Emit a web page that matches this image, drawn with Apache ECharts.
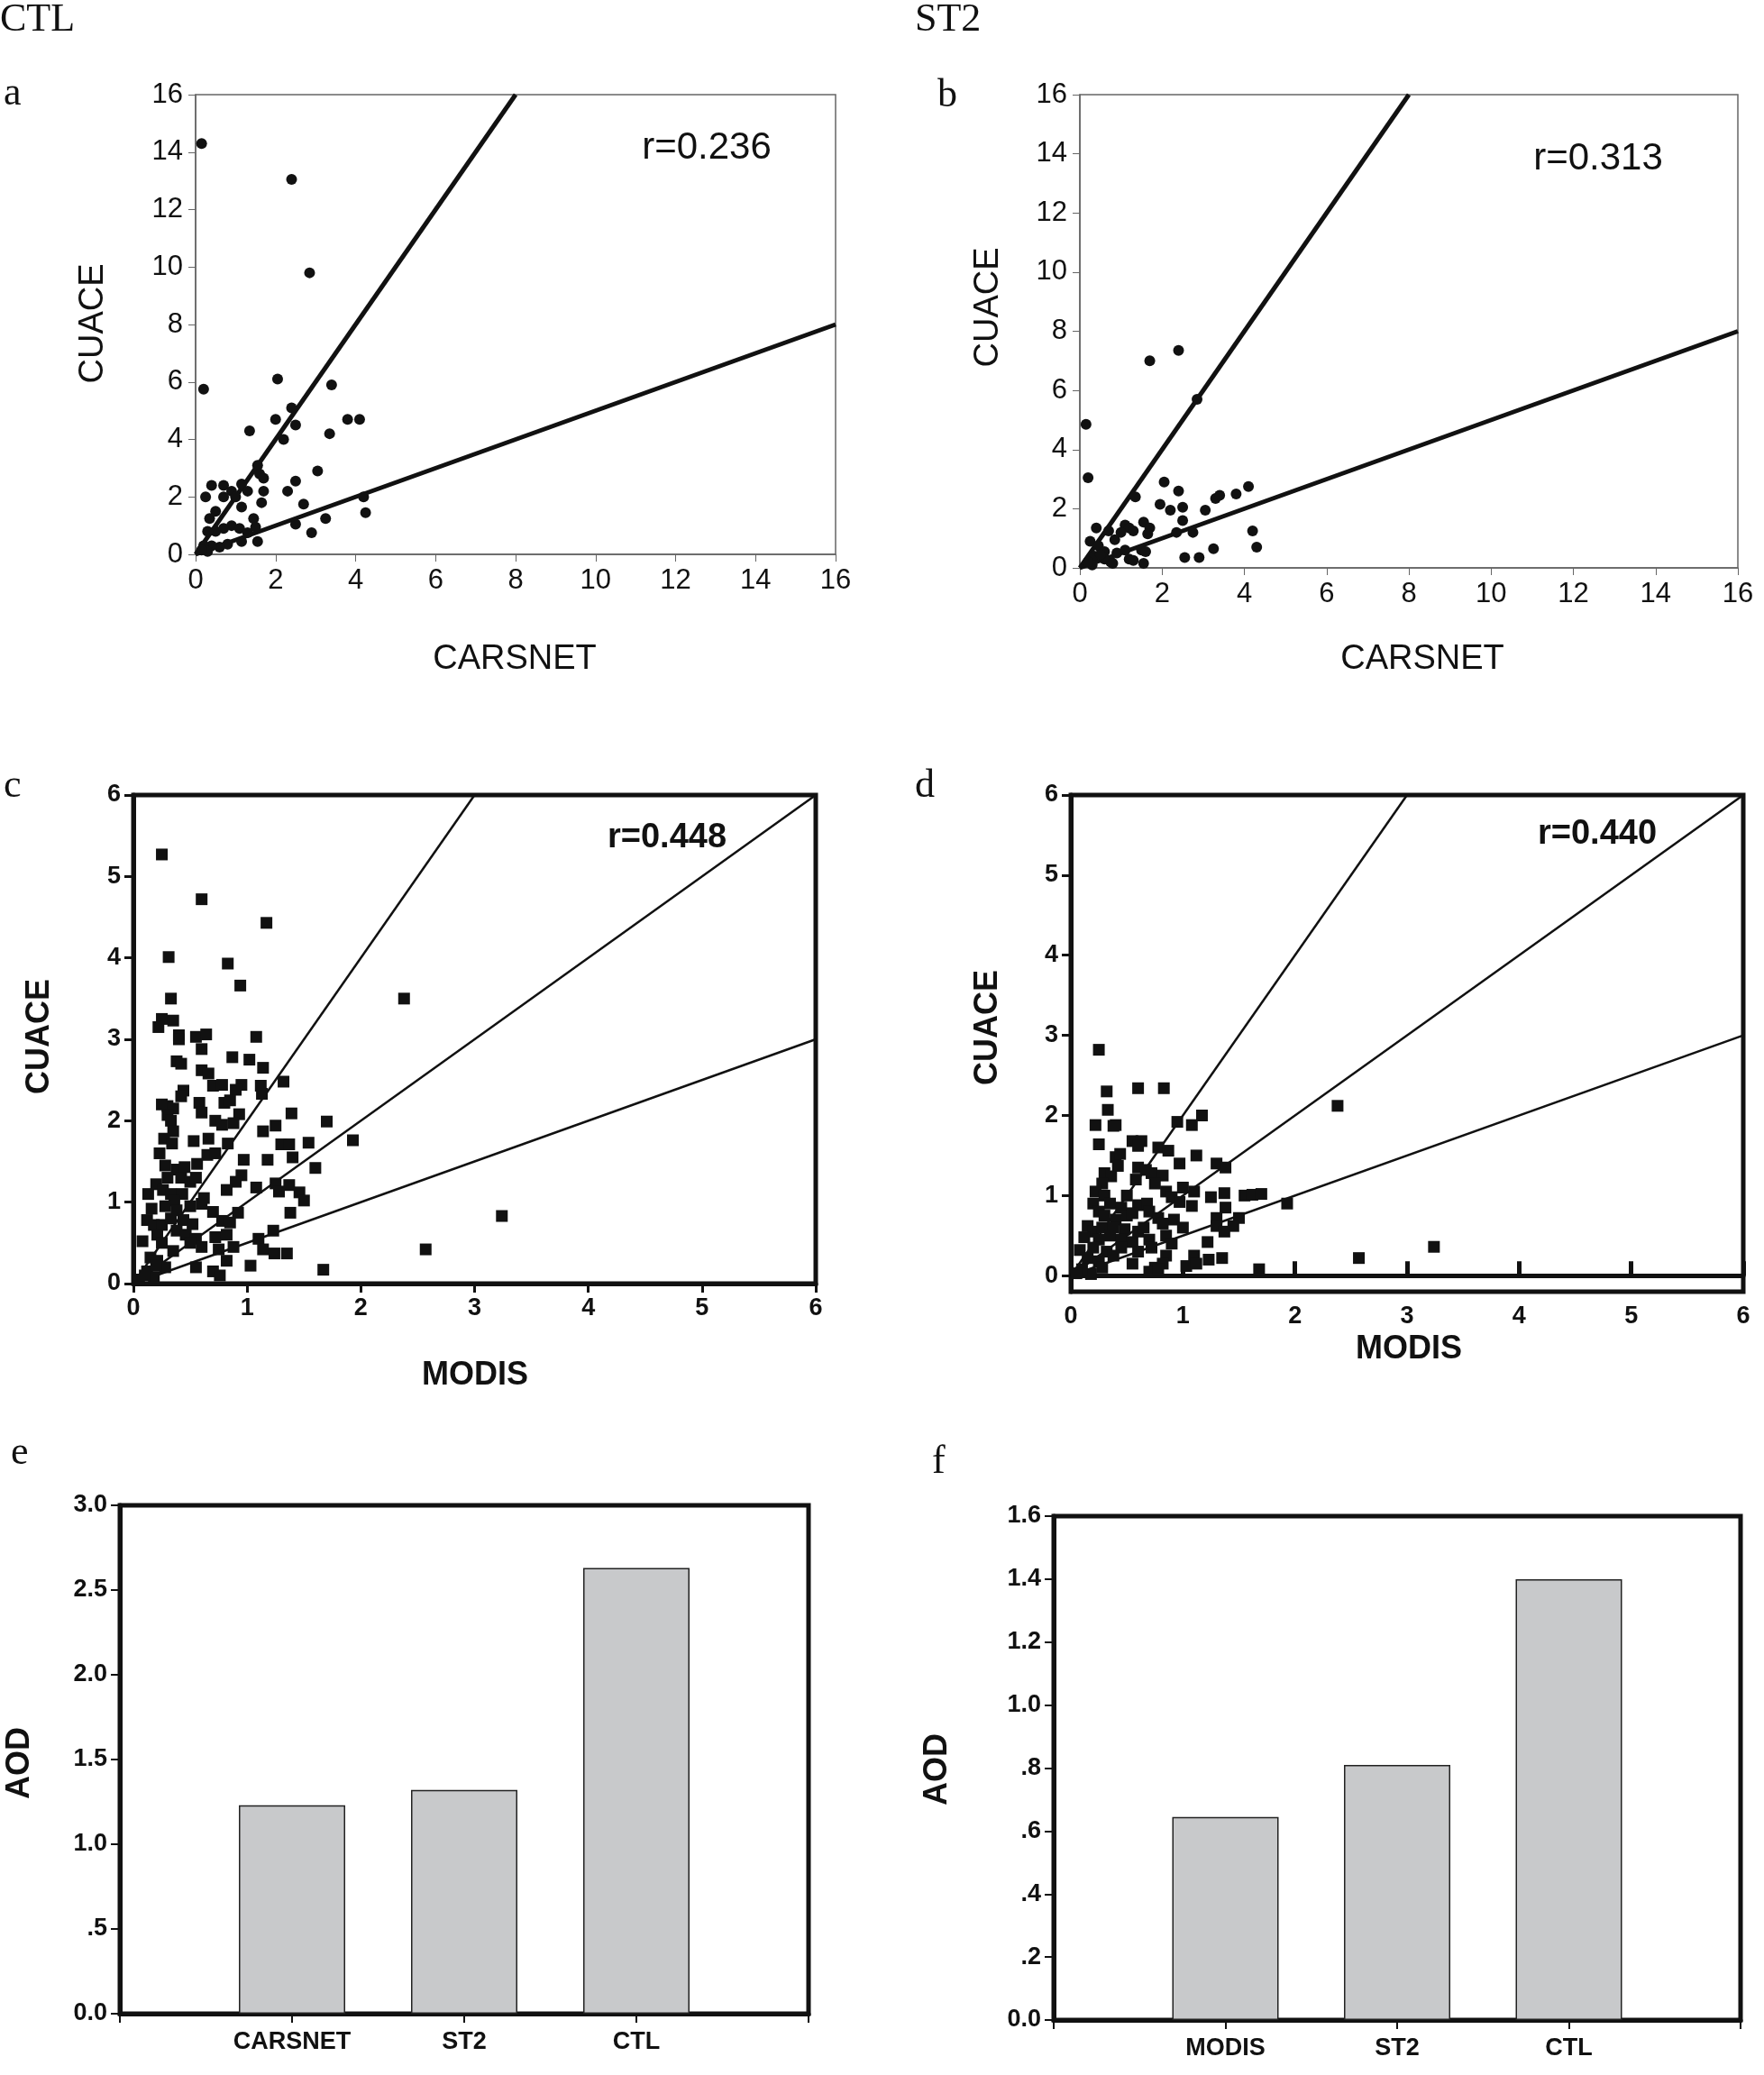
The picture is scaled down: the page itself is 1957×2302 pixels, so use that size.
<!DOCTYPE html>
<html><head><meta charset="utf-8">
<script src="https://cdn.jsdelivr.net/npm/echarts@6/dist/echarts.min.js"></script>
<style>html,body{margin:0;background:#fff}#c{width:1957px;height:2302px}</style>
</head><body><div id="c"></div>
<script>
// ---- data ----
const lineA1 = [[0,0],[8,16]], lineA2 = [[0,0],[16,8]];
const ptsA = [[0.15,14.3],[0.2,5.75],[2.4,13.05],[2.85,9.8],[2.05,6.1],[3.4,5.9],[2.4,5.1],[1.35,4.3],[2.0,4.7],[2.5,4.5],[3.8,4.7],[4.1,4.7],[2.2,4.0],[3.35,4.2],[1.55,3.1],[1.6,2.8],[1.7,2.65],[3.05,2.9],[2.5,2.55],[0.25,2.0],[0.4,2.4],[0.7,2.4],[0.9,2.2],[1.15,2.45],[1.3,2.2],[0.7,2.0],[1.0,2.0],[1.7,2.2],[2.3,2.2],[1.65,1.8],[1.15,1.65],[2.7,1.75],[4.2,2.0],[4.25,1.45],[0.5,1.5],[0.35,1.25],[1.45,1.25],[3.25,1.25],[2.5,1.05],[0.9,1.0],[1.1,0.9],[0.7,0.9],[0.5,0.8],[0.3,0.8],[1.5,0.95],[1.3,0.75],[2.9,0.75],[1.15,0.45],[1.55,0.45],[0.8,0.35],[0.6,0.25],[0.4,0.3],[0.2,0.3],[0.3,0.1],[0.15,0.15]];
const ptsB = [[0.15,4.85],[0.2,3.05],[1.7,7.0],[2.4,7.35],[2.85,5.7],[1.35,2.4],[2.05,2.9],[2.4,2.6],[1.95,2.15],[2.2,1.95],[2.5,2.05],[3.05,1.95],[3.3,2.35],[3.4,2.45],[3.8,2.5],[4.1,2.75],[2.5,1.6],[1.55,1.55],[1.7,1.35],[1.65,1.15],[2.35,1.2],[2.75,1.2],[4.2,1.25],[4.3,0.7],[3.25,0.65],[2.55,0.35],[2.9,0.35],[1.1,1.45],[1.2,1.35],[1.0,1.2],[1.3,1.25],[0.4,1.35],[0.7,1.25],[0.25,0.9],[0.45,0.75],[0.6,0.55],[0.85,0.95],[0.9,0.5],[1.1,0.6],[1.5,0.6],[1.6,0.55],[1.2,0.3],[1.3,0.25],[1.55,0.15],[0.75,0.2],[0.6,0.3],[0.35,0.4],[0.3,0.1],[0.2,0.2],[0.5,0.45],[0.8,0.15]];
const lineC1 = [[0,0],[3,6]], lineC2 = [[0,0],[6,6]], lineC3 = [[0,0],[6,3]];
const ptsC = [[0.25,5.27],[0.6,4.72],[1.17,4.43],[0.31,4.01],[0.83,3.93],[0.94,3.66],[0.33,3.5],[2.38,3.5],[0.25,3.25],[0.35,3.23],[0.22,3.15],[0.4,3.05],[0.4,3.0],[0.55,3.03],[0.64,3.06],[1.08,3.03],[0.6,2.88],[0.87,2.78],[1.02,2.75],[0.38,2.73],[0.42,2.7],[1.14,2.65],[0.6,2.62],[0.66,2.58],[0.7,2.43],[0.78,2.44],[0.95,2.44],[1.12,2.43],[1.32,2.48],[0.44,2.37],[0.42,2.3],[1.13,2.33],[0.9,2.38],[0.25,2.2],[0.3,2.18],[0.35,2.15],[0.58,2.22],[0.6,2.1],[0.8,2.22],[0.85,2.25],[0.93,2.08],[1.39,2.09],[0.3,2.07],[0.33,2.0],[0.72,2.0],[0.78,1.95],[0.88,1.97],[1.25,1.94],[1.7,1.99],[0.35,1.87],[0.27,1.78],[0.34,1.72],[0.53,1.75],[0.66,1.78],[0.83,1.72],[1.14,1.87],[1.3,1.71],[1.37,1.71],[1.54,1.73],[1.93,1.76],[0.23,1.6],[0.65,1.58],[0.72,1.6],[0.97,1.52],[1.18,1.52],[1.4,1.55],[0.28,1.45],[0.38,1.4],[0.45,1.43],[0.56,1.47],[1.6,1.42],[0.3,1.3],[0.42,1.3],[0.5,1.25],[0.55,1.3],[0.95,1.33],[0.9,1.25],[1.25,1.23],[1.37,1.21],[0.2,1.22],[0.26,1.15],[0.33,1.1],[0.13,1.1],[0.43,1.1],[0.62,1.05],[0.82,1.15],[1.08,1.18],[1.28,1.13],[1.46,1.12],[1.5,1.02],[1.38,0.87],[0.36,1.02],[0.16,0.92],[0.28,0.95],[0.38,0.9],[0.5,0.95],[0.6,0.98],[0.7,0.88],[0.92,0.87],[0.12,0.78],[0.18,0.72],[0.25,0.72],[0.33,0.8],[0.44,0.78],[0.52,0.73],[0.78,0.77],[0.85,0.75],[1.23,0.65],[0.21,0.6],[0.38,0.65],[0.46,0.6],[0.55,0.55],[0.72,0.57],[0.82,0.6],[1.1,0.55],[0.08,0.52],[0.25,0.5],[0.5,0.5],[0.6,0.45],[0.75,0.42],[0.88,0.45],[1.14,0.42],[1.24,0.37],[1.35,0.37],[0.35,0.4],[0.15,0.32],[0.21,0.28],[0.28,0.2],[0.55,0.2],[0.7,0.15],[0.76,0.1],[0.82,0.28],[1.03,0.22],[1.67,0.17],[2.57,0.42],[3.24,0.83],[0.12,0.15],[0.18,0.08],[0.05,0.05],[0.2,0.22],[0.1,0.1]];
const ptsD = [[0.25,2.82],[0.32,2.3],[0.6,2.34],[0.83,2.34],[2.38,2.12],[0.33,2.07],[1.17,2.0],[0.22,1.88],[0.38,1.87],[0.4,1.88],[0.95,1.92],[1.08,1.88],[0.25,1.64],[0.55,1.68],[0.63,1.68],[0.6,1.62],[0.78,1.6],[0.87,1.56],[1.12,1.5],[0.4,1.48],[0.44,1.52],[0.42,1.37],[0.97,1.4],[1.3,1.4],[1.38,1.35],[0.3,1.28],[0.36,1.24],[0.6,1.35],[0.67,1.32],[0.72,1.28],[0.82,1.25],[0.28,1.15],[0.58,1.2],[0.75,1.15],[1.0,1.1],[1.1,1.05],[1.37,1.03],[1.55,1.0],[1.62,1.01],[1.7,1.02],[0.22,1.05],[0.3,1.0],[0.5,1.0],[0.85,1.05],[0.9,0.98],[1.25,0.98],[1.93,0.9],[0.2,0.9],[0.35,0.9],[0.45,0.85],[0.6,0.88],[0.68,0.9],[0.97,0.92],[1.08,0.87],[1.38,0.85],[0.25,0.8],[0.3,0.75],[0.4,0.7],[0.5,0.75],[0.55,0.78],[0.7,0.8],[0.78,0.72],[0.92,0.7],[1.3,0.72],[1.5,0.72],[0.15,0.62],[0.2,0.55],[0.28,0.6],[0.38,0.6],[0.48,0.58],[0.6,0.55],[0.65,0.6],[0.82,0.65],[1.0,0.6],[1.3,0.62],[1.45,0.62],[1.37,0.55],[0.12,0.48],[0.25,0.45],[0.35,0.5],[0.45,0.45],[0.55,0.42],[0.7,0.45],[0.85,0.5],[0.9,0.4],[1.22,0.42],[0.08,0.32],[0.2,0.35],[0.32,0.3],[0.45,0.35],[0.6,0.3],[0.72,0.35],[0.85,0.25],[1.1,0.25],[1.35,0.22],[0.15,0.22],[0.25,0.18],[0.38,0.25],[0.55,0.15],[0.75,0.1],[0.82,0.15],[1.03,0.12],[1.12,0.15],[1.23,0.2],[1.68,0.08],[2.57,0.22],[3.24,0.36],[0.18,0.02],[0.1,0.08],[0.28,0.1],[0.7,0.05],[0.78,0.08],[0.05,0.03]];
const catsE = ['CARSNET','ST2','CTL'], valsE = [1.23,1.32,2.63];
const catsF = ['MODIS','ST2','CTL'], valsF = [0.645,0.81,1.40];
const ticksCD = [0,1,2,3,4,5,6];

// ---- chart ----
const SANS = 'Liberation Sans, Arial, sans-serif';
const NARROW = 'Liberation Sans Narrow, Liberation Sans, Arial, sans-serif';
const grids = [
  {left:217,top:105,width:710,height:510},
  {left:1198,top:105,width:730,height:525},
  {left:148,top:882,width:757,height:542},
  {left:1188,top:882,width:746,height:551},
  {left:133,top:1670,width:764,height:564},
  {left:1169,top:1682,width:762,height:559}
].map((g,i)=>Object.assign(g,{show:true,backgroundColor:'transparent',
  borderColor:i<2?'#666':'#111',borderWidth:i<2?1.5:5}));
const thinAx = (gi)=>({gridIndex:gi,type:'value',min:0,max:16,interval:2,splitLine:{show:false},
  axisLine:{lineStyle:{color:'#666',width:1.5}},axisTick:{length:8,lineStyle:{color:'#666'}},
  axisLabel:{fontFamily:SANS,fontSize:31,color:'#111',margin:14}});
const boldAx = (gi,extra)=>Object.assign({gridIndex:gi,type:'value',min:0,max:6,interval:1,splitLine:{show:false},
  axisLine:{lineStyle:{color:'#111',width:5}},axisTick:{length:10,lineStyle:{color:'#111',width:3}},
  axisLabel:{fontFamily:NARROW,fontWeight:'bold',fontSize:27,color:'#111',margin:14}},extra||{});
const fmtAOD = v => v===0?'0.0':(v<1?('.'+String(Math.round(v*10))):v.toFixed(1));
const xAxis = [thinAx(0),thinAx(1),boldAx(2),
  boldAx(3,{axisTick:{inside:true,length:16,lineStyle:{color:'#111',width:5}}}),
  {gridIndex:4,type:'value',min:0,max:4,interval:1,splitLine:{show:false},axisLine:{lineStyle:{color:'#111',width:5}},
   axisTick:{length:10,lineStyle:{color:'#111',width:2}},
   axisLabel:{fontFamily:NARROW,fontWeight:'bold',fontSize:27,color:'#111',margin:18,formatter:v=>catsE[v-1]||''}},
  {gridIndex:5,type:'value',min:0,max:4,interval:1,splitLine:{show:false},axisLine:{lineStyle:{color:'#111',width:5}},
   axisTick:{length:10,lineStyle:{color:'#111',width:2}},
   axisLabel:{fontFamily:NARROW,fontWeight:'bold',fontSize:27,color:'#111',margin:18,formatter:v=>catsF[v-1]||''}}];
const yAxis = [thinAx(1-1),thinAx(1),boldAx(2),
  boldAx(3,{min:-0.2,axisLabel:{customValues:ticksCD,fontFamily:NARROW,fontWeight:'bold',fontSize:27,color:'#111',margin:14},axisTick:{customValues:ticksCD,length:10,lineStyle:{color:'#111',width:3}}}),
  {gridIndex:4,type:'value',min:0,max:3,interval:0.5,splitLine:{show:false},axisLine:{lineStyle:{color:'#111',width:5}},
   axisTick:{length:10,lineStyle:{color:'#111',width:2}},
   axisLabel:{fontFamily:NARROW,fontWeight:'bold',fontSize:27,color:'#111',margin:14,formatter:fmtAOD}},
  {gridIndex:5,type:'value',min:0,max:1.6,interval:0.2,splitLine:{show:false},axisLine:{lineStyle:{color:'#111',width:5}},
   axisTick:{length:10,lineStyle:{color:'#111',width:2}},
   axisLabel:{fontFamily:NARROW,fontWeight:'bold',fontSize:27,color:'#111',margin:14,formatter:fmtAOD}}];
yAxis[0].gridIndex=0;
const ln = (i,d,w)=>({type:'line',xAxisIndex:i,yAxisIndex:i,data:d,symbol:'none',lineStyle:{color:'#111',width:w},z:3,silent:true});
const sc = (i,d,sym,size)=>({type:'scatter',xAxisIndex:i,yAxisIndex:i,data:d,symbol:sym,symbolSize:size,itemStyle:{color:'#111',opacity:1},z:4});
const br = (i,cats,vals)=>({type:'bar',xAxisIndex:i,yAxisIndex:i,data:vals.map((v,k)=>[k+1,v]),barWidth:118,
  itemStyle:{color:'#c8c9cb',borderColor:'#222',borderWidth:1.5}});
const series = [
  ln(0,lineA1,5),ln(0,lineA2,5),sc(0,ptsA,'circle',12),
  ln(1,lineA1,5),ln(1,lineA2,5),sc(1,ptsB,'circle',12),
  ln(2,lineC1,2.5),ln(2,lineC2,2.5),ln(2,lineC3,2.5),sc(2,ptsC,'rect',13),
  ln(3,lineC1,2.5),ln(3,lineC2,2.5),ln(3,lineC3,2.5),sc(3,ptsD,'rect',13),
  br(4,catsE,valsE),br(5,catsF,valsF)];
const T = (x,y,text,font,opt)=>Object.assign({type:'text',x,y,style:Object.assign({text,font,fill:'#111'},opt||{})});
const V = (x,y,text,font)=>({type:'text',x,y,rotation:Math.PI/2,style:{text,font,fill:'#111',align:'center',verticalAlign:'middle'}});
const serif = '44px "Liberation Serif", "DejaVu Serif", serif';
const graphic = [
  T(0,0,'CTL',serif),T(1015,0,'ST2',serif),
  T(4,82,'a',serif),T(1040,84,'b',serif),T(4,850,'c',serif),T(1015,850,'d',serif),
  T(12,1590,'e',serif),T(1034,1600,'f',serif),
  V(104,359,'CUACE','38px '+SANS),V(1097,341,'CUACE','38px '+SANS),
  T(571,732,'CARSNET','38px '+SANS,{align:'center',verticalAlign:'middle'}),
  T(1578,732,'CARSNET','38px '+SANS,{align:'center',verticalAlign:'middle'}),
  T(784,164,'r=0.236','42px '+SANS,{align:'center',verticalAlign:'middle'}),
  T(1773,176,'r=0.313','42px '+SANS,{align:'center',verticalAlign:'middle'}),
  V(44,1150,'CUACE','bold 36px '+SANS),V(1096,1140,'CUACE','bold 36px '+SANS),
  T(527,1526,'MODIS','bold 36px '+NARROW,{align:'center',verticalAlign:'middle'}),
  T(1563,1497,'MODIS','bold 36px '+NARROW,{align:'center',verticalAlign:'middle'}),
  T(740,930,'r=0.448','bold 38px '+NARROW,{align:'center',verticalAlign:'middle'}),
  T(1772,926,'r=0.440','bold 38px '+NARROW,{align:'center',verticalAlign:'middle'}),
  V(22,1956,'AOD','bold 36px '+SANS),V(1040,1963,'AOD','bold 36px '+SANS)
].map(g=>{ if(g.rotation){ g.rotation=Math.PI/2; } return g; });
const chart = echarts.init(document.getElementById('c'),null,{renderer:'canvas'});
chart.setOption({animation:false,backgroundColor:'#fff',grid:grids,xAxis,yAxis,series,graphic});
</script></body></html>
